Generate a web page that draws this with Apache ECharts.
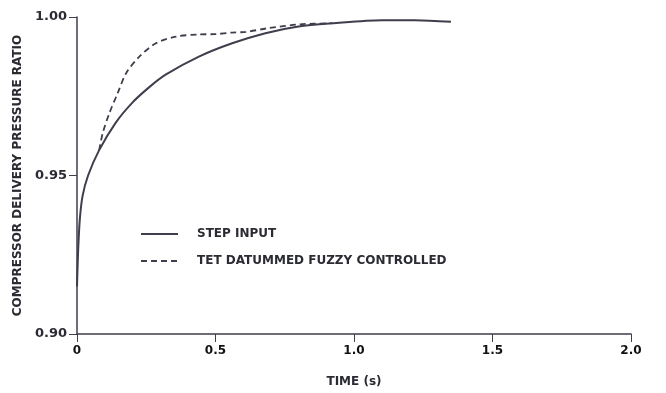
<!DOCTYPE html>
<html>
<head>
<meta charset="utf-8">
<script src="https://cdn.jsdelivr.net/npm/echarts@6/dist/echarts.min.js"></script>
<style>
  html, body { margin: 0; padding: 0; background: #fff; }
  #chart { width: 666px; height: 393px; }
</style>
</head>
<body>
<div id="chart"></div>
<script>
// step input response
const stepTime = [0, 0.004, 0.01, 0.02, 0.04, 0.08, 0.14, 0.2, 0.26, 0.32, 0.44, 0.56, 0.68, 0.8, 0.92, 1.1, 1.22, 1.35];
const stepRatio = [0.915, 0.926, 0.936, 0.9435, 0.95, 0.958, 0.9667, 0.973, 0.9778, 0.9818, 0.9875, 0.9917, 0.9949, 0.997, 0.998, 0.999, 0.999, 0.9985];

// fuzzy controlled response (overlaps step curve before t = 0.08)
const fuzzyTime = [0.08, 0.093, 0.117, 0.147, 0.177, 0.225, 0.285, 0.357, 0.44, 0.5, 0.56, 0.61, 0.685, 0.805, 0.92];
const fuzzyRatio = [0.958, 0.9634, 0.9697, 0.976, 0.9822, 0.9875, 0.9917, 0.9938, 0.9945, 0.9946, 0.9951, 0.9953, 0.9964, 0.9977, 0.998];

const seriesNames = ["STEP INPUT", "TET DATUMMED FUZZY CONTROLLED"];

const ink = "#2b2b33";
const lineInk = "#3e3e4c";
const font = "DejaVu Sans";

function pairs(xs, ys) {
  return xs.map((x, i) => [x, ys[i]]);
}

const chart = echarts.init(document.getElementById("chart"));
chart.setOption({
  animation: false,
  grid: { left: 77, right: 35, top: 17, bottom: 58 },
  legend: {
    orient: "vertical",
    left: 140,
    top: 228,
    padding: 0,
    itemWidth: 37,
    itemHeight: 10,
    itemGap: 15,
    itemStyle: { color: "transparent", borderWidth: 0 },
    data: seriesNames,
    textStyle: { color: ink, fontFamily: font, fontWeight: "bold", fontSize: 12, padding: [0, 0, 0, 14] }
  },
  xAxis: {
    type: "value",
    min: 0,
    max: 2,
    interval: 0.5,
    name: "TIME (s)",
    nameLocation: "middle",
    nameGap: 42,
    nameTextStyle: { color: ink, fontFamily: font, fontWeight: "bold", fontSize: 12 },
    axisLine: { lineStyle: { color: lineInk, width: 1.5 } },
    axisTick: { inside: false, length: 8, lineStyle: { color: lineInk } },
    axisLabel: {
      margin: 11,
      color: "#111",
      fontFamily: font,
      fontWeight: "bold",
      fontSize: 12,
      formatter: (v) => (v === 0 ? "0" : v.toFixed(1))
    },
    splitLine: { show: false }
  },
  yAxis: {
    type: "value",
    min: 0.9,
    max: 1.0,
    interval: 0.05,
    name: "COMPRESSOR DELIVERY PRESSURE RATIO",
    nameLocation: "middle",
    nameGap: 50,
    nameTextStyle: { color: ink, fontFamily: font, fontWeight: "bold", fontSize: 12 },
    axisLine: { show: true, lineStyle: { color: lineInk, width: 1.5 } },
    axisTick: { show: true, length: 8, lineStyle: { color: lineInk } },
    axisLabel: {
      margin: 10,
      color: ink,
      fontFamily: font,
      fontWeight: "bold",
      fontSize: 13,
      formatter: (v) => v.toFixed(2)
    },
    splitLine: { show: false }
  },
  series: [
    {
      name: seriesNames[0],
      type: "line",
      data: pairs(stepTime, stepRatio),
      smooth: 0.3,
      showSymbol: false,
      symbol: "none",
      lineStyle: { color: lineInk, width: 2 },
      itemStyle: { color: lineInk }
    },
    {
      name: seriesNames[1],
      type: "line",
      data: pairs(fuzzyTime, fuzzyRatio),
      smooth: 0.3,
      showSymbol: false,
      symbol: "none",
      lineStyle: { color: lineInk, width: 1.8, type: [6, 4] },
      itemStyle: { color: lineInk }
    }
  ]
});
</script>
</body>
</html>
